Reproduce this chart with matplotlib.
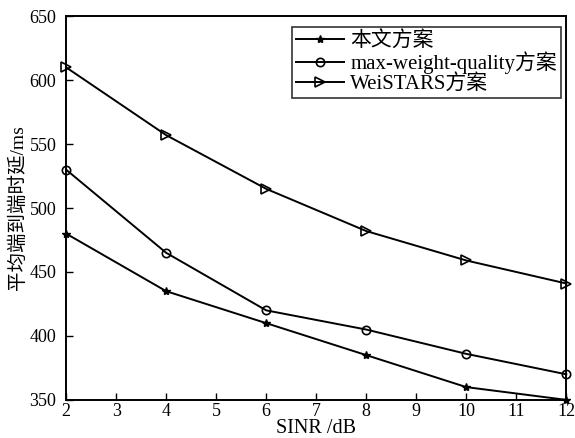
import matplotlib
matplotlib.use("Agg")
import matplotlib.pyplot as plt

plt.rcParams['font.family'] = ['Liberation Serif', 'Noto Sans CJK SC']

sinr = [2, 4, 6, 8, 10, 12]
delay_proposed = [480, 435, 410, 385, 360, 350]
delay_mwq = [530, 465, 420, 405, 386, 370]
delay_weistars = [610, 557, 515, 482, 459, 441]

labels = ['本文方案', 'max-weight-quality方案', 'WeiSTARS方案']
xticks = list(range(2, 13))
yticks = [350, 400, 450, 500, 550, 600, 650]

fig = plt.figure(figsize=(5.75, 4.38), dpi=100)
ax = fig.add_axes([0.115, 0.087, 0.870, 0.876])

ax.plot(sinr, delay_proposed, color='black', lw=1.4, marker='*', ms=6,
        mfc='black', mec='black', label=labels[0], clip_on=False, zorder=3)
ax.plot(sinr, delay_mwq, color='black', lw=1.4, marker='o', ms=6,
        mfc='none', mec='black', mew=1.2, label=labels[1], clip_on=False, zorder=3)
ax.plot(sinr, delay_weistars, color='black', lw=1.4, marker='>', ms=7,
        mfc='none', mec='black', mew=1.2, label=labels[2], clip_on=False, zorder=3)

ax.set_xlim(2, 12)
ax.set_ylim(350, 650)
ax.set_xticks(xticks)
ax.set_yticks(yticks)
ax.tick_params(axis='both', direction='in', length=5, width=1, labelsize=13,
               top=False, right=False)
ax.tick_params(axis='y', pad=7)
ax.tick_params(axis='x', pad=2)
for s in ax.spines.values():
    s.set_linewidth(1.4)

ax.set_xlabel('SINR /dB', fontsize=14.5)
ax.xaxis.set_label_coords(0.5, -0.05)
ax.set_ylabel('平均端到端时延/ms', fontsize=14)
ax.yaxis.set_label_coords(-0.078, 0.5)

leg = ax.legend(loc='upper right', fontsize=15, frameon=True, fancybox=False,
                edgecolor='black', handlelength=2.3, handletextpad=0.3,
                labelspacing=0.0, borderpad=0.2, borderaxespad=0,
                bbox_to_anchor=(0.99, 0.971))
leg.get_frame().set_linewidth(1.2)

fig.savefig('out.png', dpi=100)
